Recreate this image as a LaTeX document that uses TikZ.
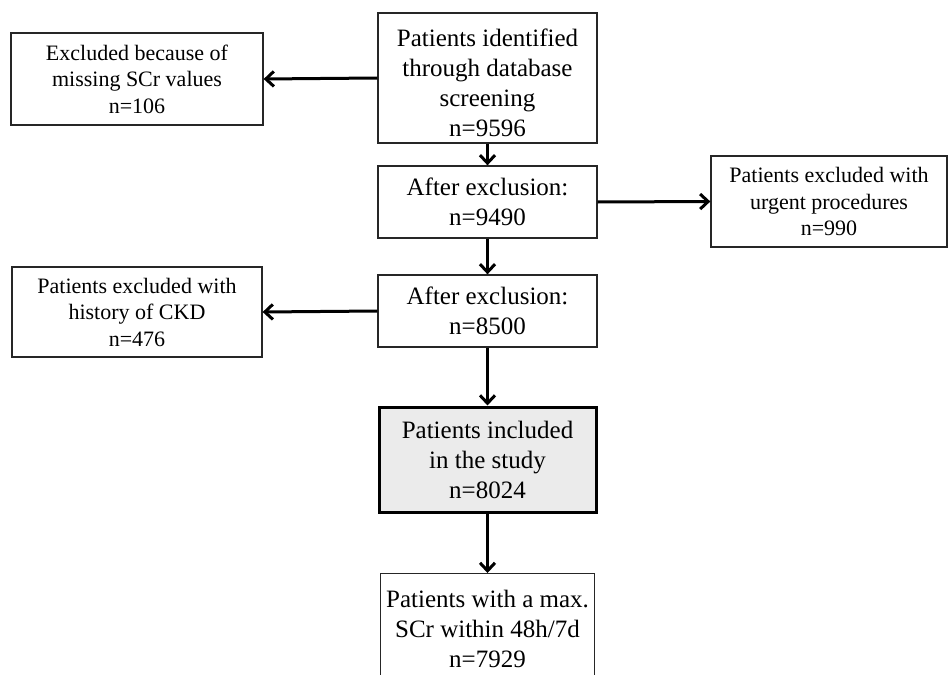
\documentclass[tikz,border=0pt]{standalone}
\usepackage{fontspec}
\setmainfont{Liberation Serif}
\usetikzlibrary{arrows.meta}
\tikzset{
  box/.style={draw=black!85, line width=1.3pt, fill=white, align=center, inner sep=0pt,
    font=\fontsize{25}{30}\selectfont},
  sidebox/.style={box, font=\fontsize{22}{26.5}\selectfont},
  mainbox/.style={box, draw=black, line width=3pt, fill=black!8},
  arr/.style={line width=3pt, -{Straight Barb[length=8pt,width=15pt]}}
}
\begin{document}
\begin{tikzpicture}[x=1pt,y=1pt]
\useasboundingbox (0,0) rectangle (949,-674);
\clip (0,0) rectangle (949,-674);
\fill[white] (0,0) rectangle (949,-674);

\node[box, minimum width=219pt, minimum height=130pt] (A) at (487.5,-78)
  {\rule{0pt}{28pt}Patients identified\\through database\\screening\\n=9596};
\node[sidebox, minimum width=252pt, minimum height=92pt] (B) at (137,-79)
  {Excluded because of\\missing SCr values\\n=106};
\node[box, minimum width=219pt, minimum height=72pt] (C) at (487.5,-202)
  {After exclusion:\\n=9490};
\node[sidebox, minimum width=236pt, minimum height=91pt] (D) at (829,-201.5)
  {Patients excluded with\\urgent procedures\\n=990};
\node[box, minimum width=219pt, minimum height=72pt] (E) at (487.5,-311)
  {After exclusion:\\n=8500};
\node[sidebox, minimum width=250pt, minimum height=90pt] (F) at (137,-312)
  {Patients excluded with\\history of CKD\\n=476};
\node[mainbox, minimum width=217pt, minimum height=105pt] (G) at (487.5,-459.5)
  {Patients included\\in the study\\n=8024};
\node[box, minimum width=214pt, inner ysep=16pt, anchor=north] (H) at (487.5,-573)
  {Patients with a max.\\SCr within 48h/7d\\n=7929};

\draw[arr] (A.west) -- (B.east);
\draw[arr] (A.south) -- (C.north);
\draw[arr] (C.east) -- (D.west);
\draw[arr] (C.south) -- (E.north);
\draw[arr] (E.west) -- (F.east);
\draw[arr] (E.south) -- (G.north);
\draw[arr] (G.south) -- (H.north);
\end{tikzpicture}
\end{document}
